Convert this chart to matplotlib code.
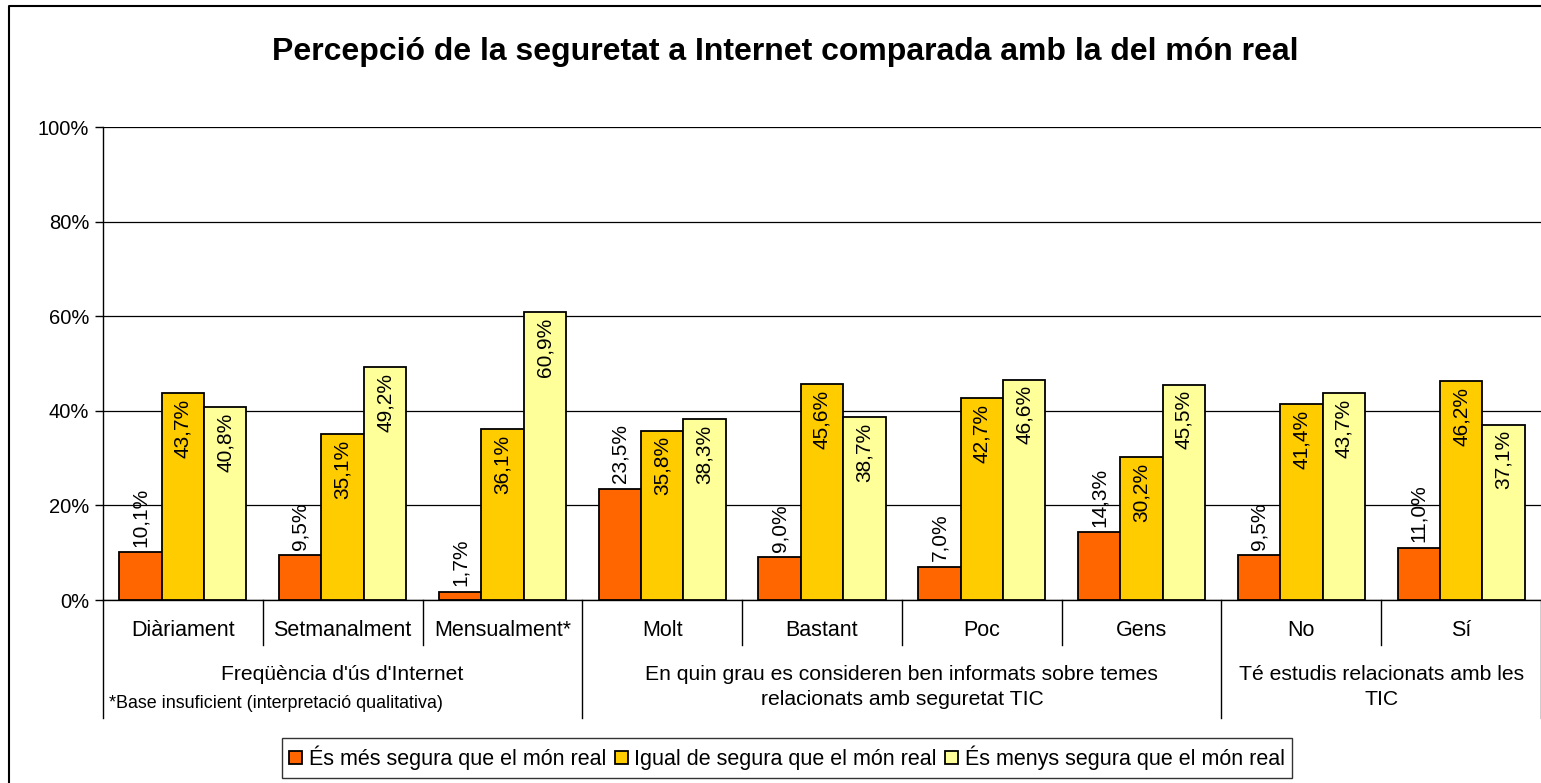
import matplotlib
matplotlib.use('Agg')
import matplotlib.pyplot as plt
import matplotlib.transforms as mtransforms
from matplotlib.lines import Line2D
import numpy as np

plt.rcParams['font.family'] = ['Liberation Sans', 'DejaVu Sans']

categories = ['Diàriament', 'Setmanalment', 'Mensualment*', 'Molt', 'Bastant',
              'Poc', 'Gens', 'No', 'Sí']
series_names = ['És més segura que el món real',
                'Igual de segura que el món real',
                'És menys segura que el món real']
mes_segura = [10.1, 9.5, 1.7, 23.5, 9.0, 7.0, 14.3, 9.5, 11.0]
igual = [43.7, 35.1, 36.1, 35.8, 45.6, 42.7, 30.2, 41.4, 46.2]
menys_segura = [40.8, 49.2, 60.9, 38.3, 38.7, 46.6, 45.5, 43.7, 37.1]
groups = [("Freqüència d'ús d'Internet", 0, 3),
          ("En quin grau es consideren ben informats sobre temes\nrelacionats amb seguretat TIC", 3, 7),
          ("Té estudis relacionats amb les\nTIC", 7, 9)]
footnote = '*Base insuficient (interpretació qualitativa)'
title = 'Percepció de la seguretat a Internet comparada amb la del món real'
colors = ['#FF6600', '#FFCC00', '#FFFF99']

W, H = 1541, 783
fig = plt.figure(figsize=(W / 100, H / 100), dpi=100)
ax = fig.add_axes([103 / W, 1 - 600 / H, (1541 - 103) / W, (600 - 127) / H])

x = np.arange(len(categories)) + 0.5
bw = 0.265
series = [mes_segura, igual, menys_segura]
for k, (vals, col, name) in enumerate(zip(series, colors, series_names)):
    pos = x + (k - 1) * bw
    ax.bar(pos, vals, bw, color=col, edgecolor='black', linewidth=1.3,
           label=name, zorder=3)
    for p, v in zip(pos, vals):
        lab = f'{v:.1f}%'.replace('.', ',')
        if k == 0:
            ax.annotate(lab, (p, v), xytext=(0, 4), textcoords='offset points',
                        rotation=90, ha='center', va='bottom', fontsize=15, zorder=4)
        else:
            ax.annotate(lab, (p, v), xytext=(0, -4), textcoords='offset points',
                        rotation=90, ha='center', va='top', fontsize=15, zorder=4)

ax.set_xlim(0, len(categories))
ax.set_ylim(0, 100)
ax.set_yticks(range(0, 101, 20))
ax.set_yticklabels([f'{t}%' for t in range(0, 101, 20)], fontsize=14.5)
ax.yaxis.grid(True, color='black', linewidth=0.9, zorder=0)
ax.tick_params(axis='y', length=6, width=1, pad=4)
ax.set_xticks([])
for s in ['top', 'right']:
    ax.spines[s].set_visible(False)
ax.spines['left'].set_linewidth(1)
ax.spines['bottom'].set_linewidth(1)

trans = mtransforms.blended_transform_factory(ax.transData, ax.transAxes)
ah = 600 - 127
cat_bottom = -45 / ah
grp_bottom = -118 / ah
group_edges = set()
for _, a, b in groups:
    group_edges.update([a, b])
for i in range(len(categories) + 1):
    yb = grp_bottom if i in group_edges else cat_bottom
    ax.plot([i, i], [0, yb], color='black', linewidth=1, transform=trans,
            clip_on=False)
for xi, c in zip(x, categories):
    ax.text(xi, -30 / ah, c, transform=trans, ha='center', va='center',
            fontsize=15.5)
for name, a, b in groups:
    ax.text((a + b) / 2, -65 / ah, name, transform=trans, ha='center', va='top',
            fontsize=15.2, linespacing=1.4)
ax.text(0.035, -103 / ah, footnote, transform=trans, ha='left', va='center',
        fontsize=12.9)

fig.text(785 / W, 1 - 52 / H, title, ha='center', va='center', fontsize=23,
         fontweight='bold')

leg = fig.legend(loc='center', bbox_to_anchor=(787 / W, 1 - 758 / H), ncol=3,
                 fontsize=15.5, frameon=True, fancybox=False, edgecolor='black',
                 handlelength=0.6, handleheight=0.6, handletextpad=0.3,
                 columnspacing=0.4, borderpad=0.35)
leg.get_frame().set_linewidth(1)

# chart border (only left and top edges are inside the picture)
fig.add_artist(Line2D([9 / W, 9 / W, 1], [0, 1 - 6 / H, 1 - 6 / H],
                      transform=fig.transFigure, color='black', linewidth=1.5))

fig.savefig('out.png', dpi=100)
